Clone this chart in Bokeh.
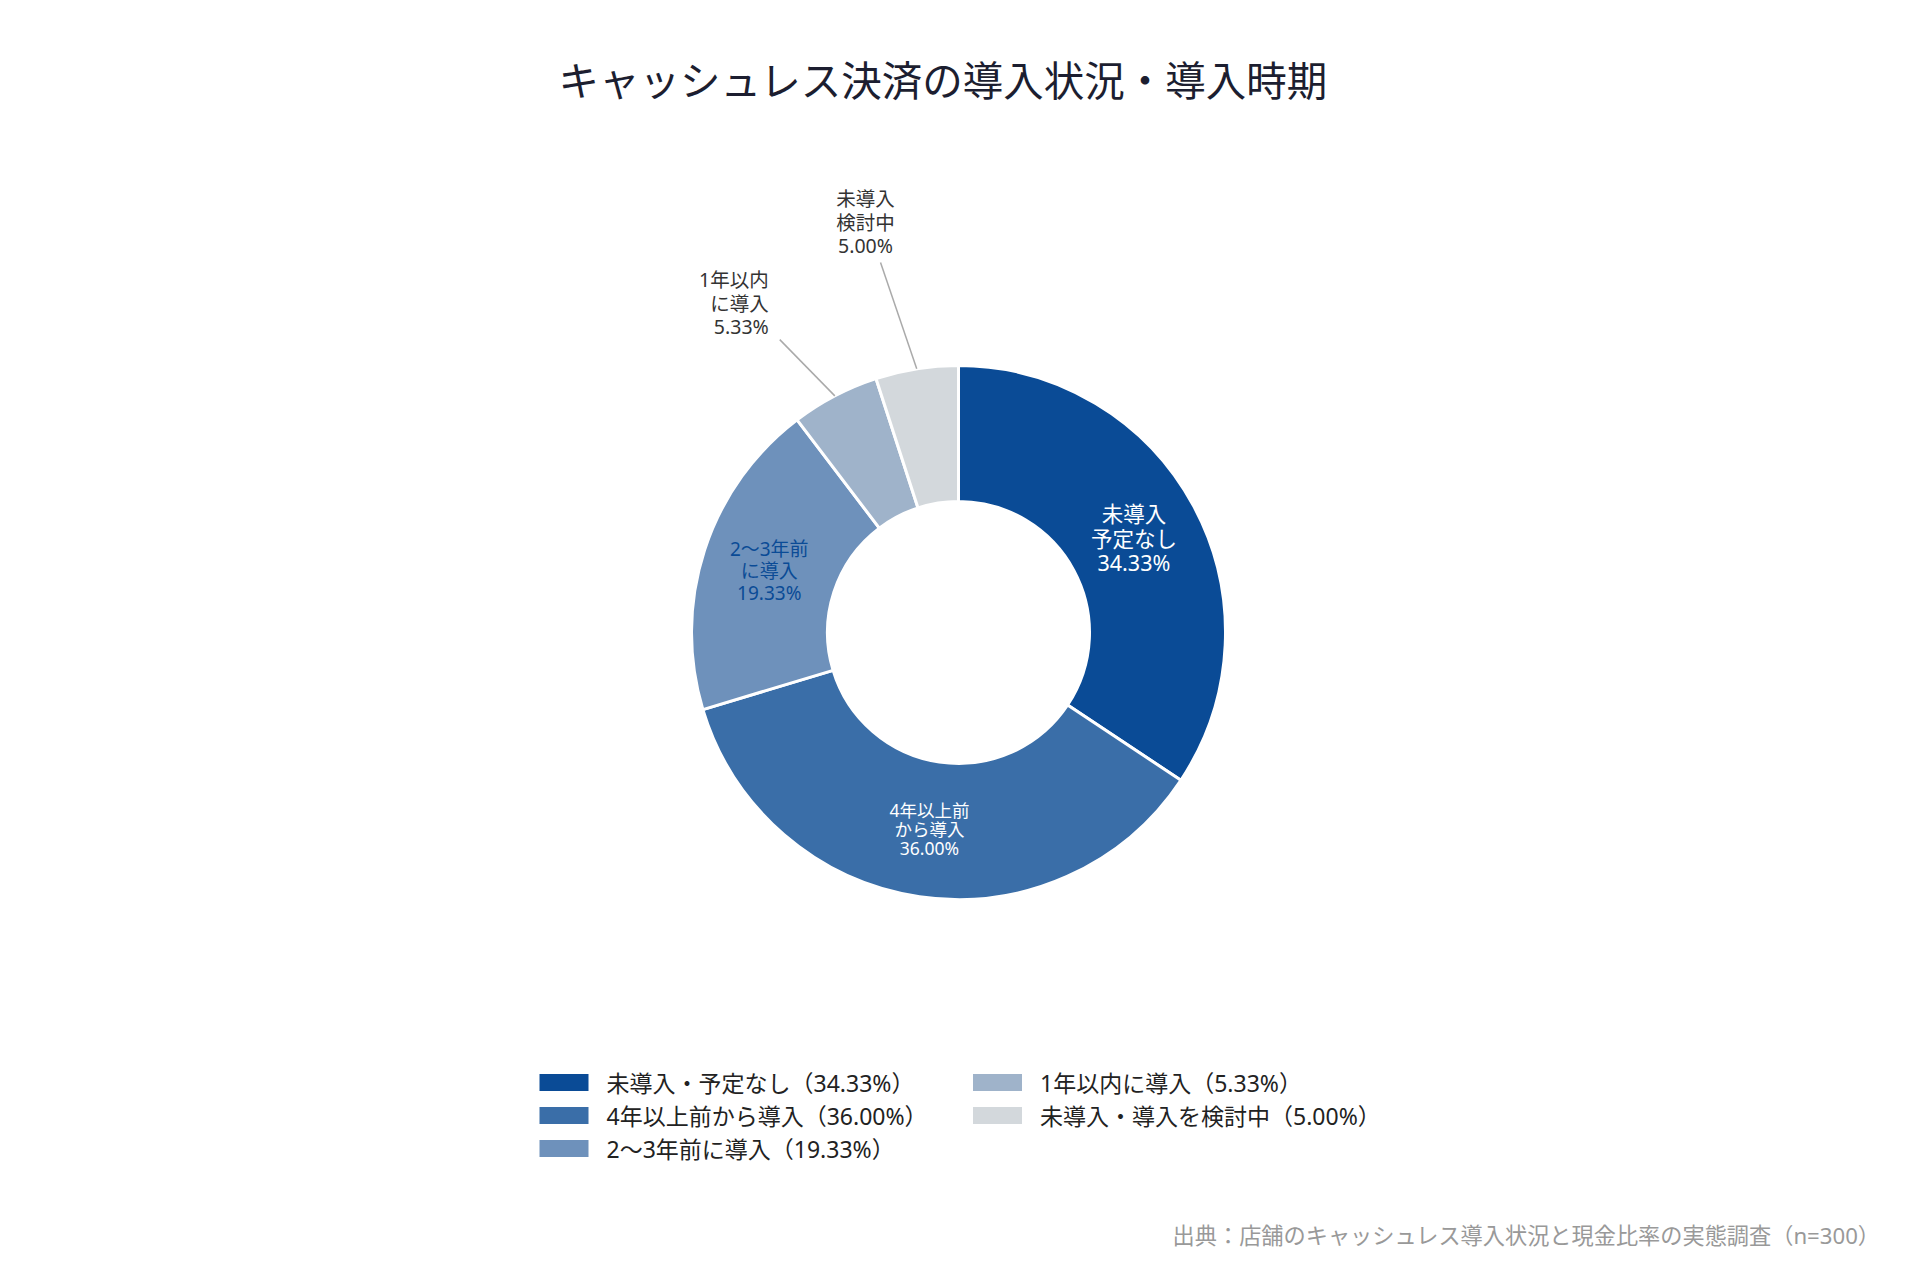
import math
from bokeh.plotting import figure
from bokeh.models import Range1d
from bokeh.core.properties import value
from bokeh.embed import file_html
from bokeh.resources import INLINE

# ---------------- data ----------------
categories = ["未導入・予定なし", "4年以上前から導入", "2〜3年前に導入", "1年以内に導入", "未導入・導入を検討中"]
shares = [34.33, 36.00, 19.33, 5.33, 5.00]
slice_names = [["未導入", "予定なし"], ["4年以上前", "から導入"], ["2〜3年前", "に導入"],
               ["1年以内", "に導入"], ["未導入", "検討中"]]
title_text = "キャッシュレス決済の導入状況・導入時期"
source_text = "出典：店舗のキャッシュレス導入状況と現金比率の実態調査（n=300）"

# ---------------- style ----------------
colors = ["#0a4b96", "#3a6ea8", "#6e91bb", "#9fb3ca", "#d3d8dc"]
FONT = "Noto Sans, Noto Sans CJK JP"
TFONT = "Noto Sans CJK JP"
FW, FH, TOP = 1904, 1144, 120
label_font = [21.5, 17.5, 19, 19.5, 19.5]
label_step = [24.5, 19, 22, 23.5, 23.5]
label_color = ["#ffffff", "#ffffff", "#0a4b96", "#333333", "#333333"]
outer_k = {3: 1.285, 4: 1.416}       # leader start radius factor
outer_d = {3: 3.8, 4: 2.9}           # leader angle shift (deg)
outer_align = {3: ("right", -11, 13), 4: ("center", -15, 17)}


def D(sx, sy):
    """screen (page) pixel -> data coordinates"""
    return sx - 8, (TOP + FH + 8) - sy


p = figure(frame_width=FW, frame_height=FH, x_range=Range1d(0, FW), y_range=Range1d(0, FH),
           output_backend="svg", toolbar_location=None, x_axis_type=None, y_axis_type=None,
           min_border_top=TOP, min_border_left=0, min_border_right=0, min_border_bottom=0,
           outline_line_color=None, title=title_text)
p.grid.visible = False
p.title.align = "left"
p.title.offset = 558
p.title.text_font = TFONT
p.title.text_font_size = "40.5px"
p.title.text_font_style = "normal"
p.title.text_color = "#1c1e30"
p.title.standoff = 26

CX, CY = D(966, 640)
R_OUT, R_IN = 267, 131

total = sum(shares)
starts, ends, mids = [], [], []
acc = 0.0
for v in shares:
    a0 = math.pi / 2 - 2 * math.pi * acc / total
    a1 = math.pi / 2 - 2 * math.pi * (acc + v) / total
    starts.append(a0)
    ends.append(a1)
    mids.append((a0 + a1) / 2)
    acc += v

p.annular_wedge(x=CX, y=CY, inner_radius=R_IN, outer_radius=R_OUT,
                start_angle=starts, end_angle=ends, direction="clock",
                fill_color=colors, line_color="white", line_width=3)

# ---------------- slice labels ----------------
r_mid = (R_IN + R_OUT) / 2
for i, v in enumerate(shares):
    lines = slice_names[i] + [f"{v:.2f}%"]
    fs = label_font[i]
    step = label_step[i]
    if v >= 10:
        tx = CX + r_mid * math.cos(mids[i])
        ty = CY + r_mid * math.sin(mids[i])
        ys = [ty + step, ty, ty - step]
        p.text(x=[tx] * 3, y=ys, text=lines, text_align="center", text_baseline="middle",
               text_font=value(FONT), text_font_size=value(f"{fs}px"), text_color=label_color[i])
    else:
        ang = mids[i] + math.radians(outer_d[i])
        sx0 = CX + R_OUT * outer_k[i] * math.cos(ang)
        sy0 = CY + R_OUT * outer_k[i] * math.sin(ang)
        ex = CX + R_OUT * math.cos(mids[i])
        ey = CY + R_OUT * math.sin(mids[i])
        p.line(x=[sx0, ex], y=[sy0, ey], line_color="#aaaaaa", line_width=1.5)
        align, dx, gap = outer_align[i]
        ys = [sy0 + gap + 2 * step, sy0 + gap + step, sy0 + gap]
        p.text(x=[sx0 + dx] * 3, y=ys, text=lines, text_align=align, text_baseline="middle",
               text_font=value(FONT), text_font_size=value(f"{fs}px"), text_color=label_color[i])

# ---------------- legend ----------------
col_x = [571.5, 1005]
row_y = [1090, 1123, 1156]
sw_x, sw_y, lab_x, lab_y, leg_text = [], [], [], [], []
for i, (c, v) in enumerate(zip(categories, shares)):
    col, row = (0, i) if i < 3 else (1, i - 3)
    x, y = D(col_x[col], row_y[row])
    sw_x.append(x)
    sw_y.append(y)
    lab_x.append(x + 42.5)
    lab_y.append(y)
    leg_text.append(f"{c}（{v:.2f}%）")
p.rect(x=sw_x, y=sw_y, width=49, height=17, fill_color=colors, line_color=None)
p.text(x=lab_x, y=lab_y, text=leg_text, text_align="left", text_baseline="middle",
       text_font=value(FONT), text_font_size=value("23px"), text_color="#222222")

# ---------------- source ----------------
sx, sy = D(1888, 1243)
p.text(x=[sx], y=[sy], text=[source_text], text_align="right", text_baseline="middle",
       text_font=value(FONT), text_font_size=value("22.2px"), text_color="#999999")

open("out.html", "w").write(file_html(p, INLINE))
